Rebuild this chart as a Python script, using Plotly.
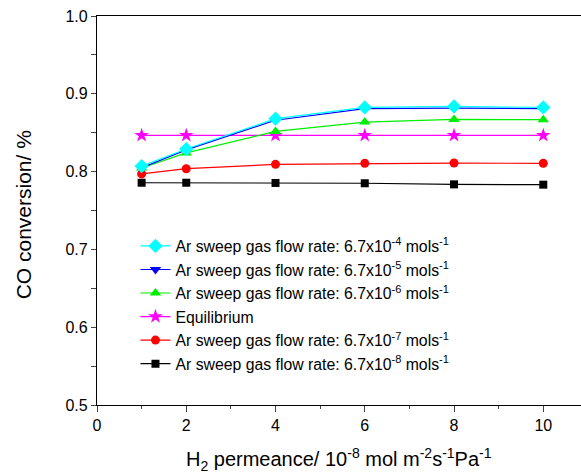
import plotly.graph_objects as go

permeance = [1, 2, 4, 6, 8, 10]
conv_e4 = [0.807, 0.829, 0.868, 0.8825, 0.8838, 0.8825]
conv_e5 = [0.805, 0.828, 0.866, 0.881, 0.8815, 0.881]
conv_e6 = [0.8046, 0.824, 0.8517, 0.8637, 0.867, 0.8667]
conv_eq = [0.8466, 0.8466, 0.8466, 0.8466, 0.8466, 0.8466]
conv_e7 = [0.797, 0.8037, 0.8093, 0.8106, 0.811, 0.8106]
conv_e8 = [0.7857, 0.7857, 0.7854, 0.785, 0.7836, 0.7832]

names = {
    "e4": "Ar sweep gas flow rate: 6.7x10<sup>-4</sup> mols<sup>-1</sup>",
    "e5": "Ar sweep gas flow rate: 6.7x10<sup>-5</sup> mols<sup>-1</sup>",
    "e6": "Ar sweep gas flow rate: 6.7x10<sup>-6</sup> mols<sup>-1</sup>",
    "eq": "Equilibrium",
    "e7": "Ar sweep gas flow rate: 6.7x10<sup>-7</sup> mols<sup>-1</sup>",
    "e8": "Ar sweep gas flow rate: 6.7x10<sup>-8</sup> mols<sup>-1</sup>",
}

fig = go.Figure()
series = [
    ("e8", conv_e8, "#000000", "square", 8),
    ("e7", conv_e7, "#ff0000", "circle", 9),
    ("eq", conv_eq, "#ff00ff", "star", 11),
    ("e6", conv_e6, "#00ee00", "triangle-up", 10),
    ("e5", conv_e5, "#0000ff", "triangle-down", 10),
    ("e4", conv_e4, "#00ffff", "diamond", 11),
]
for key, vals, col, sym, sz in series:
    fig.add_trace(go.Scatter(
        x=permeance, y=vals, name=names[key], mode="lines+markers",
        line=dict(color=col, width=1.2),
        marker=dict(symbol=sym, size=sz, color=col, line=dict(width=0)),
    ))

fig.update_layout(
    width=581, height=473,
    margin=dict(l=97, r=0, t=16, b=68, autoexpand=False),
    paper_bgcolor="white", plot_bgcolor="white",
    font=dict(family="Arial, Liberation Sans, sans-serif", size=16, color="black"),
    legend=dict(
        traceorder="reversed", x=0.0795, y=0.452, xanchor="left", yanchor="top",
        bgcolor="rgba(0,0,0,0)", font=dict(size=15.8), tracegroupgap=0,
        itemwidth=30,
    ),
    xaxis=dict(
        range=[0, 10.845], tickvals=[0, 2, 4, 6, 8, 10], ticks="outside", ticklen=6,
        minor=dict(dtick=1, ticks="outside", ticklen=3, tick0=0),
        showline=True, linecolor="black", linewidth=1.3, mirror=True,
        showgrid=False, zeroline=False, automargin=False,
        tickfont=dict(size=16),
    ),
    yaxis=dict(
        range=[0.5, 1.0], tickvals=[0.5, 0.6, 0.7, 0.8, 0.9, 1.0], ticks="outside", ticklen=5,
        tickformat=".1f",
        minor=dict(dtick=0.05, ticks="outside", ticklen=5, tick0=0.5),
        showline=True, linecolor="black", linewidth=1.3,
        showgrid=False, zeroline=False, automargin=False,
        tickfont=dict(size=16),
    ),
    showlegend=True,
    annotations=[
        dict(text="H<sub>2</sub> permeance/ 10<sup>-8</sup> mol m<sup>-2</sup>s<sup>-1</sup>Pa<sup>-1</sup>",
             xref="paper", yref="paper", x=0.5, y=-0.098, xanchor="center", yanchor="top",
             showarrow=False, font=dict(size=20)),
        dict(text="CO conversion/ %", textangle=-90,
             xref="paper", yref="paper", x=-0.153, y=0.49, xanchor="center", yanchor="middle",
             showarrow=False, font=dict(size=21)),
    ],
)

fig.write_html(
    "out.html",
    config={"displayModeBar": False},
    post_script="document.body.style.margin='0';document.body.style.padding='0';document.body.style.overflow='hidden';",
)
